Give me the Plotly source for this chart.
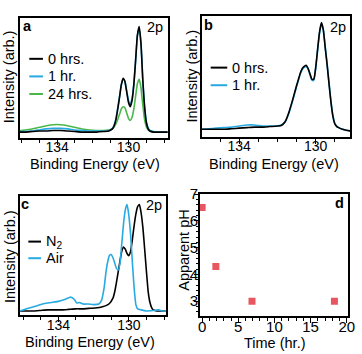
import plotly.graph_objects as go

W, H = 362, 354
FONT = "Liberation Sans, Arial, Helvetica, sans-serif"

# ---------------- data ----------------
# Panel a : binding energy (eV) and normalised intensity
be_a = [136.2, 135.8, 135.4, 135.0, 134.6, 134.2, 133.8, 133.4, 133.0, 132.6,
        132.2, 131.8, 131.4, 131.1, 130.9, 130.8, 130.7, 130.6, 130.5, 130.4,
        130.3, 130.2, 130.1, 130.0, 129.9, 129.8, 129.7, 129.6, 129.5, 129.4,
        129.3, 129.2, 129.1, 129.0, 128.9, 128.8, 128.6, 128.4, 128.1, 127.8]
a_0h = [0.00, 0.00, 0.005, 0.01, 0.01, 0.015, 0.015, 0.01, 0.005, 0.0,
        0.0, 0.0, 0.005, 0.01, 0.03, 0.06, 0.12, 0.22, 0.33, 0.45,
        0.51, 0.48, 0.38, 0.28, 0.24, 0.30, 0.45, 0.68, 0.92, 1.00,
        0.84, 0.50, 0.24, 0.09, 0.03, 0.01, 0.0, 0.0, 0.0, 0.0]
a_1h = [0.005, 0.005, 0.01, 0.02, 0.03, 0.035, 0.035, 0.03, 0.02, 0.015,
        0.01, 0.01, 0.01, 0.015, 0.035, 0.07, 0.13, 0.23, 0.34, 0.45,
        0.50, 0.48, 0.39, 0.30, 0.26, 0.32, 0.46, 0.68, 0.91, 0.98,
        0.83, 0.50, 0.25, 0.10, 0.04, 0.015, 0.005, 0.0, 0.0, 0.0]
a_24h = [0.01, 0.02, 0.03, 0.045, 0.06, 0.07, 0.07, 0.06, 0.045, 0.03,
         0.02, 0.015, 0.015, 0.02, 0.03, 0.05, 0.08, 0.12, 0.17, 0.22,
         0.24, 0.23, 0.18, 0.13, 0.11, 0.14, 0.22, 0.34, 0.46, 0.50,
         0.42, 0.26, 0.12, 0.05, 0.02, 0.01, 0.0, 0.0, 0.0, 0.0]
a_names = ["0 hrs.", "1 hr.", "24 hrs."]

# Panel b
be_b = [136.0, 135.6, 135.2, 134.8, 134.4, 134.0, 133.6, 133.2, 132.8, 132.4,
        132.0, 131.8, 131.6, 131.4, 131.2, 131.0, 130.9, 130.8, 130.7, 130.6,
        130.5, 130.4, 130.3, 130.2, 130.1, 130.0, 129.9, 129.8, 129.7, 129.6,
        129.5, 129.4, 129.3, 129.2, 129.1, 129.0, 128.9, 128.8, 128.6, 128.4, 128.2]
b_0h = [0.0, 0.0, 0.0, 0.0, 0.005, 0.01, 0.015, 0.02, 0.02, 0.025,
        0.03, 0.035, 0.07, 0.16, 0.28, 0.41, 0.47, 0.53, 0.57, 0.59,
        0.60, 0.57, 0.52, 0.47, 0.47, 0.58, 0.75, 0.91, 1.00, 0.93,
        0.76, 0.60, 0.42, 0.25, 0.12, 0.05, 0.025, 0.015, 0.0, -0.01, -0.015]
b_1h = [0.0, 0.005, 0.01, 0.015, 0.02, 0.03, 0.04, 0.04, 0.03, 0.03,
        0.03, 0.04, 0.07, 0.15, 0.27, 0.40, 0.46, 0.52, 0.56, 0.58,
        0.59, 0.57, 0.51, 0.46, 0.46, 0.57, 0.74, 0.90, 0.99, 0.93,
        0.77, 0.61, 0.43, 0.26, 0.13, 0.055, 0.03, 0.015, 0.0, -0.01, -0.015]
b_names = ["0 hrs.", "1 hr."]

# Panel c
be_c_n2 = [136.2, 135.8, 135.4, 135.0, 134.6, 134.2, 133.8, 133.4, 133.0, 132.6,
           132.2, 131.8, 131.5, 131.3, 131.1, 130.9, 130.8, 130.7, 130.6, 130.5,
           130.4, 130.3, 130.2, 130.1, 130.0, 129.9, 129.8, 129.7, 129.6, 129.5,
           129.4, 129.3, 129.2, 129.1, 129.0, 128.9, 128.8, 128.7, 128.6, 128.4,
           128.2, 128.0, 127.9]
c_n2 = [0.0, 0.0, 0.0, 0.005, 0.01, 0.01, 0.01, 0.015, 0.02, 0.02,
        0.025, 0.03, 0.04, 0.05, 0.07, 0.12, 0.18, 0.27, 0.37, 0.47,
        0.56, 0.60, 0.58, 0.54, 0.52, 0.56, 0.67, 0.80, 0.91, 0.98,
        1.00, 0.92, 0.78, 0.58, 0.37, 0.18, 0.08, 0.03, 0.01, 0.0,
        0.0, 0.0, 0.0]
be_c_air = [136.2, 136.0, 135.6, 135.2, 134.8, 134.4, 134.0, 133.6, 133.3, 133.1,
            132.95, 132.8, 132.6, 132.3, 132.0, 131.7, 131.55, 131.4, 131.3, 131.2,
            131.1, 131.0, 130.9, 130.8, 130.7, 130.6, 130.5, 130.4, 130.3, 130.2,
            130.1, 130.0, 129.9, 129.8, 129.7, 129.6, 129.5, 129.3, 129.0, 128.6,
            128.3, 128.1, 127.9]
c_air = [0.0, 0.01, 0.03, 0.05, 0.07, 0.08, 0.09, 0.11, 0.13, 0.11,
         0.075, 0.08, 0.065, 0.065, 0.06, 0.065, 0.10, 0.22, 0.36, 0.46,
         0.52, 0.53, 0.50, 0.45, 0.40, 0.385, 0.45, 0.63, 0.82, 0.95,
         1.00, 0.90, 0.72, 0.46, 0.22, 0.06, 0.02, 0.01, 0.0, 0.005,
         0.01, 0.0, 0.0]
c_names = ["N<sub>2</sub>", "Air"]

# Panel d
time_hr = [0.0, 1.9, 6.9, 18.3]
ph_vals = [6.5, 4.3, 3.0, 3.0]

# ---------------- style ----------------
BLACK = "#000000"
BLUE = "#27aae1"
GREEN = "#4ab848"
RED = "#e8565f"
LW = 1.6


def px(x):
    return x / W


def py(y):
    return 1 - y / H


fig = go.Figure()


def add_line(x, y, color, ax):
    fig.add_trace(go.Scatter(x=x, y=y, mode="lines",
                             line=dict(color=color, width=LW, shape="spline", smoothing=0.5),
                             xaxis="x" + ax, yaxis="y" + ax, showlegend=False,
                             hoverinfo="skip"))


add_line(be_a, a_24h, GREEN, "")
add_line(be_a, a_1h, BLUE, "")
add_line(be_a, a_0h, BLACK, "")
add_line(be_b, b_1h, BLUE, "2")
add_line(be_b, b_0h, BLACK, "2")
add_line(be_c_n2, c_n2, BLACK, "3")
add_line(be_c_air, c_air, BLUE, "3")
fig.add_trace(go.Scatter(x=time_hr, y=ph_vals, mode="markers",
                         marker=dict(symbol="square", size=7, color=RED, line=dict(width=0)),
                         xaxis="x4", yaxis="y4", showlegend=False))

tickfont = dict(family=FONT, size=14, color="black")
dfont = dict(family=FONT, size=15, color="black")


def be_axis(l, r, rng, anchor, standoff):
    return dict(domain=[px(l), px(r)], range=rng, anchor=anchor,
                showline=True, mirror=True, linecolor="black", linewidth=1.5,
                showgrid=False, zeroline=False,
                tick0=130, dtick=4, ticks="outside", ticklen=5, tickwidth=1,
                tickcolor="black", tickfont=tickfont, ticklabelstandoff=standoff,
                minor=dict(dtick=1, ticks="outside", ticklen=3, tickcolor="black", tickwidth=1))


def int_axis(t, b, rng, anchor):
    return dict(domain=[py(b), py(t)], range=rng, anchor=anchor,
                showline=True, mirror=True, linecolor="black", linewidth=1.5,
                showgrid=False, zeroline=False, showticklabels=False, ticks="")


layout = dict(
    width=W, height=H, margin=dict(l=0, r=0, t=0, b=0),
    paper_bgcolor="white", plot_bgcolor="white",
    font=dict(family=FONT, size=14, color="black"),
    xaxis=be_axis(18, 170, [136.1, 127.8], "y", -10),
    yaxis=int_axis(10, 133, [-0.056, 1.083], "x"),
    xaxis2=be_axis(205, 357, [135.95, 128.2], "y2", -10),
    yaxis2=int_axis(8, 132, [-0.073, 1.064], "x2"),
    xaxis3=be_axis(18, 168, [136.2, 127.9], "y3", -8),
    yaxis3=int_axis(192, 314, [-0.037, 1.083], "x3"),
    xaxis4=dict(domain=[px(203), px(355)], range=[-0.3, 20.2], anchor="y4",
                showline=True, mirror=True, linecolor="black", linewidth=1.5,
                showgrid=False, zeroline=False, tick0=0, dtick=5,
                ticks="outside", ticklen=5, tickcolor="black",
                tickfont=dfont, ticklabelstandoff=-9,
                minor=dict(dtick=1, ticks="outside", ticklen=3, tickcolor="black")),
    yaxis4=dict(domain=[py(315), py(190)], range=[2.45, 7.02], anchor="x4",
                showline=True, mirror=True, linecolor="black", linewidth=1.5,
                showgrid=False, zeroline=False, tick0=3, dtick=1,
                ticks="outside", ticklen=4, tickcolor="black",
                tickfont=dfont, ticklabelstandoff=-7,
                minor=dict(dtick=0.2, ticks="outside", ticklen=2, tickcolor="black")),
)
fig.update_layout(**layout)

annotations = []
shapes = []


def text(x, y, s, size=14.5, bold=False, angle=0, xanchor="center"):
    annotations.append(dict(x=px(x), y=py(y), xref="paper", yref="paper",
                            text=("<b>%s</b>" % s) if bold else s, showarrow=False,
                            xanchor=xanchor, yanchor="middle", textangle=angle,
                            font=dict(family=FONT, size=size, color="black")))


# axis titles
text(8, 70, "Intensity (arb.)", angle=-90)
text(195, 70, "Intensity (arb.)", angle=-90)
text(8, 254, "Intensity (arb.)", angle=-90)
text(95, 160, "Binding Energy (eV)")
text(279, 160, "Binding Energy (eV)")
text(90, 342, "Binding Energy (eV)")
text(187, 248, "Apparent pH", angle=-90)
text(280, 343, "Time (hr.)")

# panel labels
text(26, 18, "a", bold=True)
text(157, 19, "2p")
text(212, 17, "b", bold=True)
text(345, 19, "2p")
text(24, 201, "c", bold=True)
text(156, 202, "2p")
text(346, 200, "d", bold=True)


def legend(x0, x1, ys, names, colors):
    for yy, nm, col in zip(ys, names, colors):
        shapes.append(dict(type="line", xref="paper", yref="paper",
                           x0=px(x0), x1=px(x1), y0=py(yy), y1=py(yy),
                           line=dict(color=col, width=2)))
        text(x1 + 3, yy, nm, xanchor="left")


legend(28, 42, [52, 70, 88], a_names, [BLACK, BLUE, GREEN])
legend(214, 231, [61, 79], b_names, [BLACK, BLUE])
legend(27, 40, [239, 256], c_names, [BLACK, BLUE])

fig.update_layout(annotations=annotations, shapes=shapes)
fig.write_html("out.html")
